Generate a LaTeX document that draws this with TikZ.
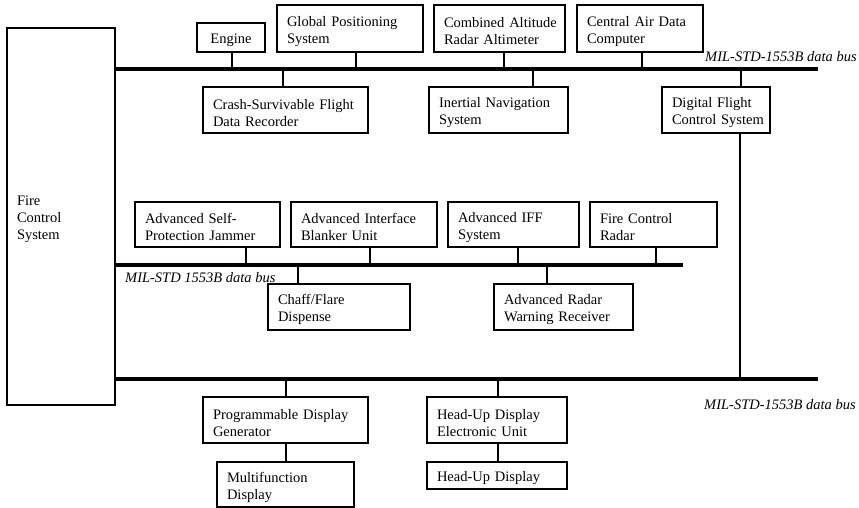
\documentclass[tikz,border=0pt]{standalone}
\usepackage{fontspec}
\setmainfont{Liberation Serif}
\tikzset{
  box/.style={draw, line width=1.3pt, align=left, inner xsep=10pt, inner ysep=2pt, outer sep=0pt,
              font=\fontsize{14.5}{17}\selectfont,
              execute at begin node={\hyphenpenalty=10000\relax\exhyphenpenalty=10000\relax\rule{0pt}{15.5pt}}},
  conn/.style={line width=1.2pt},
  bus/.style={line width=4pt},
  buslabel/.style={font=\fontsize{14.5}{17}\selectfont\itshape, inner sep=0pt}
}
\newcommand\drawbox[6]{%
  \pgfmathsetmacro\bxw{#4-#2}\pgfmathsetmacro\bxh{#5-#3}\pgfmathsetmacro\bxt{\bxw-20}%
  \node[box, anchor=north west, text width=\bxt pt, minimum height=\bxh pt] (#1) at (#2,#3) {#6};}
\begin{document}
\begin{tikzpicture}[x=1pt,y=-1pt]
\useasboundingbox (0,0) rectangle (859,508);
% boxes
\drawbox{fcs}{7}{28}{115}{405}{Fire\\Control\\System}
\node[box, anchor=north west, text width=48pt, minimum height=29pt, align=center] (engine) at (197,23) {Engine};
\drawbox{gps}{277}{5}{423}{52}{\mbox{Global Positioning}\\System}
\drawbox{cara}{434}{5}{565}{52}{\mbox{Combined Altitude}\\\mbox{Radar Altimeter}}
\drawbox{cadc}{577}{5}{703}{52}{\mbox{Central Air Data}\\Computer}
\drawbox{crash}{203}{87}{368}{133}{\mbox{Crash-Survivable Flight}\\Data Recorder}
\drawbox{ins}{429}{87}{568}{133}{\mbox{Inertial Navigation}\\System}
\drawbox{dfcs}{662}{87}{770}{133}{\mbox{Digital Flight}\\\mbox{Control System}}
\drawbox{aspj}{135}{202}{280}{247}{\mbox{Advanced Self-}\\\mbox{Protection Jammer}}
\drawbox{aibu}{291}{202}{437}{247}{\mbox{Advanced Interface}\\Blanker Unit}
\drawbox{iff}{448}{202}{579}{247}{\mbox{Advanced IFF}\\System}
\drawbox{fcr}{590}{202}{717}{247}{\mbox{Fire Control}\\Radar}
\drawbox{chaff}{268}{284}{410}{330}{Chaff/Flare\\Dispense}
\drawbox{arwr}{494}{284}{633}{330}{\mbox{Advanced Radar}\\\mbox{Warning Receiver}}
\drawbox{pdg}{203}{397}{368}{443}{\mbox{Programmable Display}\\Generator}
\drawbox{mfd}{217}{462}{354}{507}{Multifunction\\Display}
\drawbox{hudeu}{427}{397}{567}{443}{\mbox{Head-Up Display}\\\mbox{Electronic Unit}}
\drawbox{hud}{427}{462}{567}{489}{\mbox{Head-Up Display}}
% bus coordinates
\coordinate (b1s) at (115,69); \coordinate (b1e) at (818,69);
\coordinate (b2s) at (115,265); \coordinate (b2e) at (683,265);
\coordinate (b3s) at (115,379); \coordinate (b3e) at (818,379);
\draw[bus] (fcs.east |- b1s) -- (b1e);
\draw[bus] (fcs.east |- b2s) -- (b2e);
\draw[bus] (fcs.east |- b3s) -- (b3e);
% taps bus 1
\coordinate (t1) at (232,69); \coordinate (t2) at (356,69);
\coordinate (t3) at (504,69); \coordinate (t4) at (642,69);
\coordinate (t5) at (283,69); \coordinate (t6) at (533,69);
\coordinate (t7) at (741,69);
\draw[conn] (engine.south -| t1) -- (t1);
\draw[conn] (gps.south -| t2) -- (t2);
\draw[conn] (cara.south -| t3) -- (t3);
\draw[conn] (cadc.south -| t4) -- (t4);
\draw[conn] (t5) -- (crash.north -| t5);
\draw[conn] (t6) -- (ins.north -| t6);
\draw[conn] (t7) -- (dfcs.north -| t7);
% taps bus 2
\coordinate (m1) at (246,265); \coordinate (m2) at (370,265);
\coordinate (m3) at (518,265); \coordinate (m4) at (656,265);
\coordinate (m5) at (298,265); \coordinate (m6) at (547,265);
\draw[conn] (aspj.south -| m1) -- (m1);
\draw[conn] (aibu.south -| m2) -- (m2);
\draw[conn] (iff.south -| m3) -- (m3);
\draw[conn] (fcr.south -| m4) -- (m4);
\draw[conn] (m5) -- (chaff.north -| m5);
\draw[conn] (m6) -- (arwr.north -| m6);
% taps bus 3
\coordinate (u1) at (740,379); \coordinate (u2) at (286,379); \coordinate (u3) at (498,379);
\draw[conn] (dfcs.south -| u1) -- (u1);
\draw[conn] (u2) -- (pdg.north -| u2);
\draw[conn] (u3) -- (hudeu.north -| u3);
\draw[conn] (pdg.south -| u2) -- (mfd.north -| u2);
\draw[conn] (hudeu.south -| u3) -- (hud.north -| u3);
% labels
\node[buslabel, anchor=base west] (l1) at (705,62) {MIL-STD-1553B data bus};
\node[buslabel, anchor=base west] (l2) at (125,282) {MIL-STD 1553B data bus};
\node[buslabel, anchor=base west] (l3) at (704,409) {MIL-STD-1553B data bus};
\end{tikzpicture}
\end{document}
